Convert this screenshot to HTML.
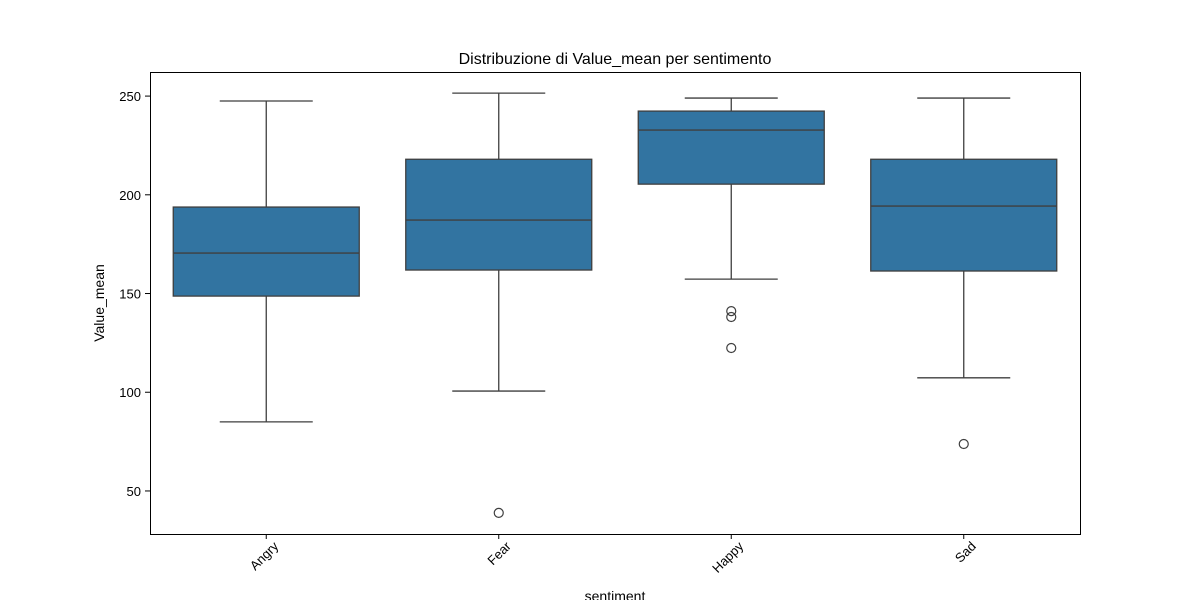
<!DOCTYPE html>
<html><head><meta charset="utf-8"><style>
body{margin:0;background:#fff;}
svg text{font-family:"Liberation Sans","DejaVu Sans",sans-serif;fill:#000;}
</style></head><body>
<svg id="chart" width="1200" height="600" xmlns="http://www.w3.org/2000/svg">
<rect width="1200" height="600" fill="#fff"/>
<text x="615" y="64" font-size="16" text-anchor="middle">Distribuzione di Value_mean per sentimento</text>
<g id="plot"></g>
<rect x="150.5" y="72.5" width="930" height="462" fill="none" stroke="#000" stroke-width="1"/>
<text x="615" y="601" font-size="14" text-anchor="middle">sentiment</text>
<text transform="translate(104,303) rotate(-90)" font-size="14" text-anchor="middle">Value_mean</text>
</svg>
<script>
const categories=["Angry","Fear","Happy","Sad"];
const whiskerLow=[85,100.6,157.3,107.3];
const q1=[148.7,161.9,205.4,161.4];
const median=[170.5,187.2,232.8,194.3];
const q3=[193.8,218,242.4,218];
const whiskerHigh=[247.5,251.5,249,249];
const outliers=[[],[38.9],[141.1,138.1,122.4],[73.8]];
const yTicks=[50,100,150,200,250];

const L=150,R=1080,T=72,B=534,yMin=28.2,yMax=262.2;
const y=v=>B-(v-yMin)/(yMax-yMin)*(B-T);
const step=(R-L)/categories.length;
const x=i=>L+step*(i+0.5);
const bw=step*0.8;
const ns="http://www.w3.org/2000/svg";
const g=document.getElementById('plot');
function mk(tag,attrs){const e=document.createElementNS(ns,tag);for(const k in attrs)e.setAttribute(k,attrs[k]);g.appendChild(e);return e;}
const lc="#3f3f3f";
yTicks.forEach(t=>{
  const tk=mk('line',{x1:L-5,x2:L,y1:y(t),y2:y(t),stroke:'#000'});
  
  
  const tx=mk('text',{x:L-9,y:y(t)+5,'font-size':13,'text-anchor':'end'});tx.textContent=t;
  
  
});
categories.forEach((c,i)=>{
  const cx=x(i);
  const w1=mk('line',{x1:cx,x2:cx,y1:y(q3[i]),y2:y(whiskerHigh[i]),stroke:lc,'stroke-width':1.3});
  
  
  const w2=mk('line',{x1:cx,x2:cx,y1:y(q1[i]),y2:y(whiskerLow[i]),stroke:lc,'stroke-width':1.3});
  
  
  [whiskerHigh[i],whiskerLow[i]].forEach(v=>{
    const cp=mk('line',{x1:cx-bw/4,x2:cx+bw/4,y1:y(v),y2:y(v),stroke:lc,'stroke-width':1.3});
    
    
  });
  const bx=mk('rect',{x:cx-bw/2,y:y(q3[i]),width:bw,height:y(q1[i])-y(q3[i]),fill:'#3274a1',stroke:lc,'stroke-width':1.3});
  
  
  const md=mk('line',{x1:cx-bw/2,x2:cx+bw/2,y1:y(median[i]),y2:y(median[i]),stroke:lc,'stroke-width':1.3});
  
  
  outliers[i].forEach(v=>{
    const o=mk('circle',{cx:cx,cy:y(v),r:4.5,fill:'none',stroke:lc,'stroke-width':1.2});
    
    
  });
  const tk=mk('line',{x1:cx,x2:cx,y1:B,y2:B+5,stroke:'#000'});
  
  
  const tx=mk('text',{'font-size':13,'text-anchor':'end',transform:`translate(${cx+13},${B+13}) rotate(-45)`});tx.textContent=c;
  
  
});
</script>
</body></html>
